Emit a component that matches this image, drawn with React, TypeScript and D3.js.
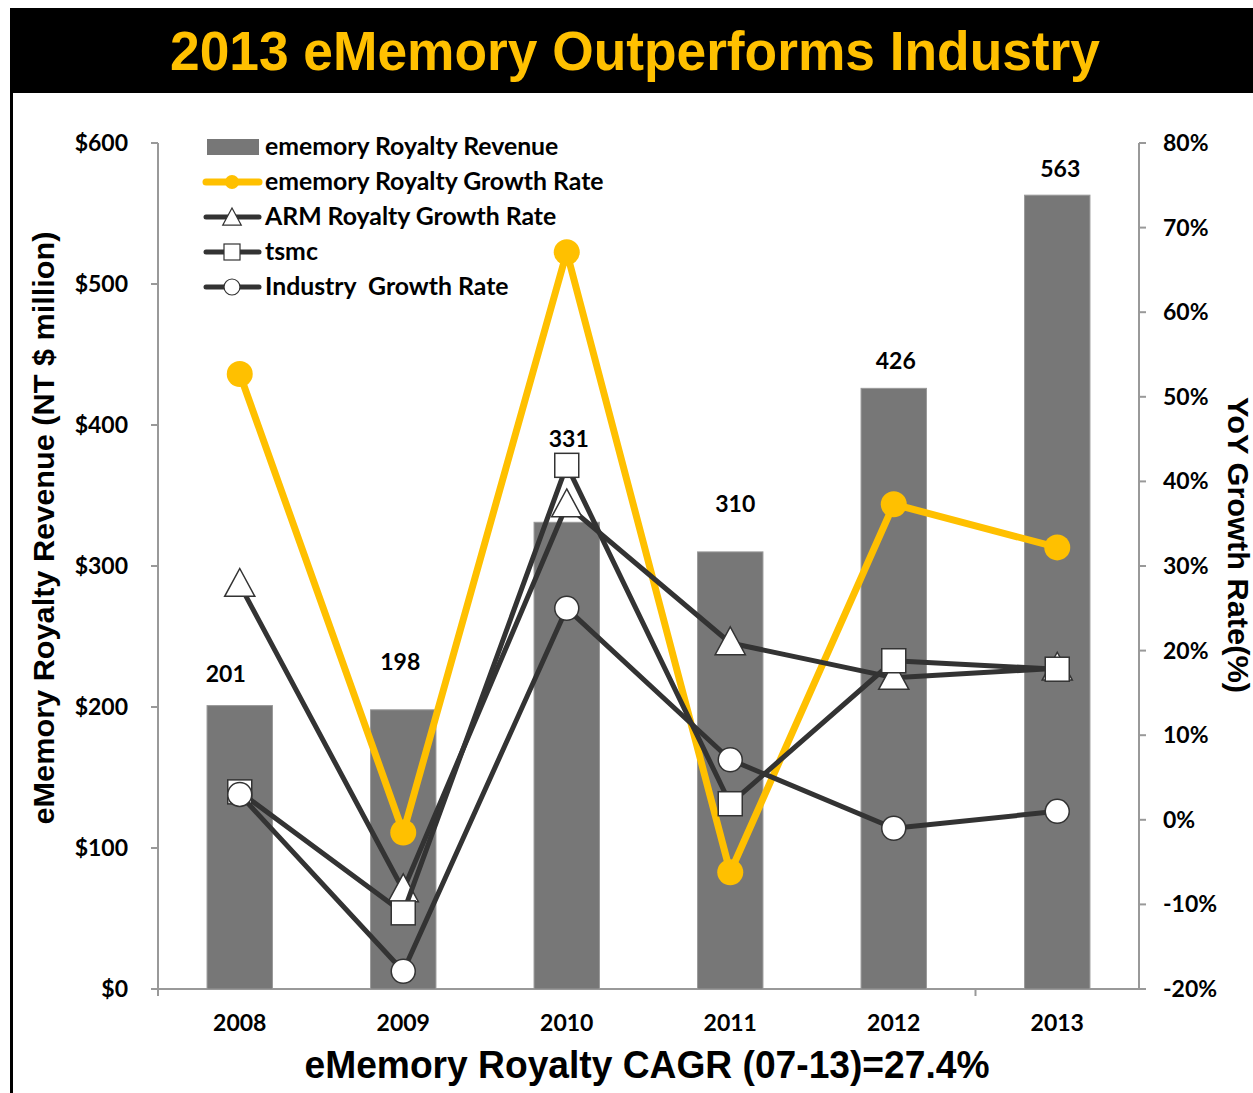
import React from "react";
import * as d3 from "d3";

const years = ["2008", "2009", "2010", "2011", "2012", "2013"];
const revenue = [201, 198, 331, 310, 426, 563];
const ememoryGrowth = [52.7, -1.5, 67.1, -6.2, 37.3, 32.2];
const armGrowth = [27.8, -8.3, 37.2, 20.9, 16.8, 17.9];
const tsmcGrowth = [3.3, -11.0, 41.9, 1.9, 18.8, 17.8];
const industryGrowth = [3.0, -17.9, 25.0, 7.1, -1.0, 1.0];
const leftTicks = [0, 100, 200, 300, 400, 500, 600];
const rightTicks = [-20, -10, 0, 10, 20, 30, 40, 50, 60, 70, 80];

// label placement offsets (px) for the revenue data labels
const labelDx = [-14, -3, 2, 5, 2, 3];
const labelDy = [-24, -40, -75, -40, -19, -18];

const W = 1253;
const H = 1093;
const plot = { left: 158, right: 1139, top: 143, bottom: 989 };
const calibri = "Lato, 'Open Sans', sans-serif";
const arial = "'Liberation Sans', Arial, sans-serif";

export default function App() {
  const x = d3.scaleBand<string>().domain(years).range([plot.left, plot.right]).paddingInner(0.6).paddingOuter(0.3);
  const xc = (d: string) => (x(d) as number) + x.bandwidth() / 2;
  const yL = d3.scaleLinear().domain([0, 600]).range([plot.bottom, plot.top]);
  const yR = d3.scaleLinear().domain([-20, 80]).range([plot.bottom, plot.top]);
  const band = (plot.right - plot.left) / years.length;

  const line = d3
    .line<number>()
    .x((_, i) => xc(years[i]))
    .y((v) => yR(v));

  const tri = (cx: number, cy: number, s: number) =>
    `M${cx},${cy - s * 0.62}L${cx + s * 0.58},${cy + s * 0.45}L${cx - s * 0.58},${cy + s * 0.45}Z`;

  const dark = "#333333";
  const yellow = "#FFC000";

  const legendItems = [
    { label: "ememory Royalty Revenue", kind: "bar" },
    { label: "ememory Royalty Growth Rate", kind: "yellow" },
    { label: "ARM Royalty Growth Rate", kind: "tri" },
    { label: "tsmc", kind: "sq" },
    { label: "Industry  Growth Rate", kind: "circ" },
  ];

  return (
    <svg width={W} height={H} style={{ position: "absolute", left: 0, top: 0, background: "#fff" }}>
      {/* title bar */}
      <rect x={10} y={8} width={W - 10} height={85} fill="#000" />
      <text
        x={635}
        y={70}
        textAnchor="middle"
        fill={yellow}
        fontFamily={arial}
        fontWeight="bold"
        fontSize={56}
        textLength={930}
        lengthAdjust="spacingAndGlyphs"
      >
        2013 eMemory Outperforms Industry
      </text>
      <line x1={11.5} y1={93} x2={11.5} y2={H} stroke="#000" strokeWidth={3} />

      {/* left axis */}
      <line x1={plot.left} y1={plot.top} x2={plot.left} y2={plot.bottom} stroke="#999" strokeWidth={2} />
      {leftTicks.map((t) => (
        <g key={"l" + t}>
          <line x1={plot.left - 7} x2={plot.left} y1={yL(t)} y2={yL(t)} stroke="#999" strokeWidth={2} />
          <text x={128} y={yL(t) + 8} textAnchor="end" fontFamily={calibri} fontWeight="bold" fontSize={23}>
            {"$" + t}
          </text>
        </g>
      ))}
      {/* right axis */}
      <line x1={plot.right} y1={plot.top} x2={plot.right} y2={plot.bottom} stroke="#999" strokeWidth={2} />
      {rightTicks.map((t) => (
        <g key={"r" + t}>
          <line x1={plot.right} x2={plot.right + 7} y1={yR(t)} y2={yR(t)} stroke="#999" strokeWidth={2} />
          <text x={1163} y={yR(t) + 8} textAnchor="start" fontFamily={calibri} fontWeight="bold" fontSize={23}>
            {t + "%"}
          </text>
        </g>
      ))}
      {/* bottom axis */}
      <line x1={plot.left - 7} y1={plot.bottom} x2={plot.right + 7} y2={plot.bottom} stroke="#999" strokeWidth={2} />
      {[0, 5].map((i) => (
        <line key={"xt" + i} x1={plot.left + band * i} x2={plot.left + band * i} y1={plot.bottom} y2={plot.bottom + 7} stroke="#999" strokeWidth={2} />
      ))}
      {years.map((yr) => (
        <text key={"xl" + yr} x={xc(yr)} y={1031} textAnchor="middle" fontFamily={calibri} fontWeight="bold" fontSize={23}>
          {yr}
        </text>
      ))}

      {/* bars */}
      {years.map((yr, i) => (
        <g key={"b" + yr}>
          <rect x={x(yr)} y={yL(revenue[i])} width={x.bandwidth()} height={plot.bottom - yL(revenue[i])} fill="#777777" stroke="#999" strokeWidth={1} />
          <text x={xc(yr) + labelDx[i]} y={yL(revenue[i]) + labelDy[i]} textAnchor="middle" fontFamily={calibri} fontWeight="bold" fontSize={23}>
            {revenue[i]}
          </text>
        </g>
      ))}

      {/* ememory growth */}
      <path d={line(ememoryGrowth) as string} fill="none" stroke={yellow} strokeWidth={7} strokeLinejoin="round" />
      {ememoryGrowth.map((v, i) => (
        <circle key={"ey" + i} cx={xc(years[i])} cy={yR(v)} r={13} fill={yellow} />
      ))}

      {/* ARM */}
      <path d={line(armGrowth) as string} fill="none" stroke={dark} strokeWidth={5} strokeLinejoin="round" />
      {armGrowth.map((v, i) => (
        <path key={"ta" + i} d={tri(xc(years[i]), yR(v), 26)} fill="#fff" stroke={dark} strokeWidth={1.5} />
      ))}

      {/* tsmc */}
      <path d={line(tsmcGrowth) as string} fill="none" stroke={dark} strokeWidth={5} strokeLinejoin="round" />
      {tsmcGrowth.map((v, i) => (
        <rect key={"ts" + i} x={xc(years[i]) - 12} y={yR(v) - 12} width={24} height={24} fill="#fff" stroke={dark} strokeWidth={1.5} />
      ))}

      {/* industry */}
      <path d={line(industryGrowth) as string} fill="none" stroke={dark} strokeWidth={5} strokeLinejoin="round" />
      {industryGrowth.map((v, i) => (
        <circle key={"in" + i} cx={xc(years[i])} cy={yR(v)} r={12} fill="#fff" stroke={dark} strokeWidth={1.5} />
      ))}

      {/* legend */}
      {legendItems.map((it, i) => {
        const cy = 147 + i * 35;
        return (
          <g key={"lg" + i}>
            {it.kind === "bar" && <rect x={207} y={cy - 8} width={52} height={16} fill="#777777" />}
            {it.kind === "yellow" && (
              <g>
                <line x1={206} x2={259} y1={cy} y2={cy} stroke={yellow} strokeWidth={7} strokeLinecap="round" />
                <circle cx={232} cy={cy} r={7} fill={yellow} />
              </g>
            )}
            {it.kind === "tri" && (
              <g>
                <line x1={206} x2={259} y1={cy} y2={cy} stroke={dark} strokeWidth={5} strokeLinecap="round" />
                <path d={tri(232, cy + 1, 16)} fill="#fff" stroke={dark} strokeWidth={1.2} />
              </g>
            )}
            {it.kind === "sq" && (
              <g>
                <line x1={206} x2={259} y1={cy} y2={cy} stroke={dark} strokeWidth={5} strokeLinecap="round" />
                <rect x={224} y={cy - 8} width={16} height={16} fill="#fff" stroke={dark} strokeWidth={1.2} />
              </g>
            )}
            {it.kind === "circ" && (
              <g>
                <line x1={206} x2={259} y1={cy} y2={cy} stroke={dark} strokeWidth={5} strokeLinecap="round" />
                <circle cx={232} cy={cy} r={8} fill="#fff" stroke={dark} strokeWidth={1.2} />
              </g>
            )}
            <text x={265} y={cy + 8} fontFamily={calibri} fontWeight="bold" fontSize={24.8} style={{ whiteSpace: "pre" }}>
              {it.label}
            </text>
          </g>
        );
      })}

      {/* axis titles */}
      <text
        transform="translate(54,528) rotate(-90)"
        textAnchor="middle"
        fontFamily={arial}
        fontWeight="bold"
        fontSize={29}
        textLength={593}
        lengthAdjust="spacingAndGlyphs"
      >
        eMemory Royalty Revenue (NT $ million)
      </text>
      <text
        transform="translate(1228,545) rotate(90)"
        textAnchor="middle"
        fontFamily={arial}
        fontWeight="bold"
        fontSize={29}
        textLength={296}
        lengthAdjust="spacingAndGlyphs"
      >
        YoY Growth Rate(%)
      </text>
      <text
        x={647}
        y={1078}
        textAnchor="middle"
        fontFamily={arial}
        fontWeight="bold"
        fontSize={38}
        textLength={685}
        lengthAdjust="spacingAndGlyphs"
      >
        eMemory Royalty CAGR (07-13)=27.4%
      </text>
    </svg>
  );
}
